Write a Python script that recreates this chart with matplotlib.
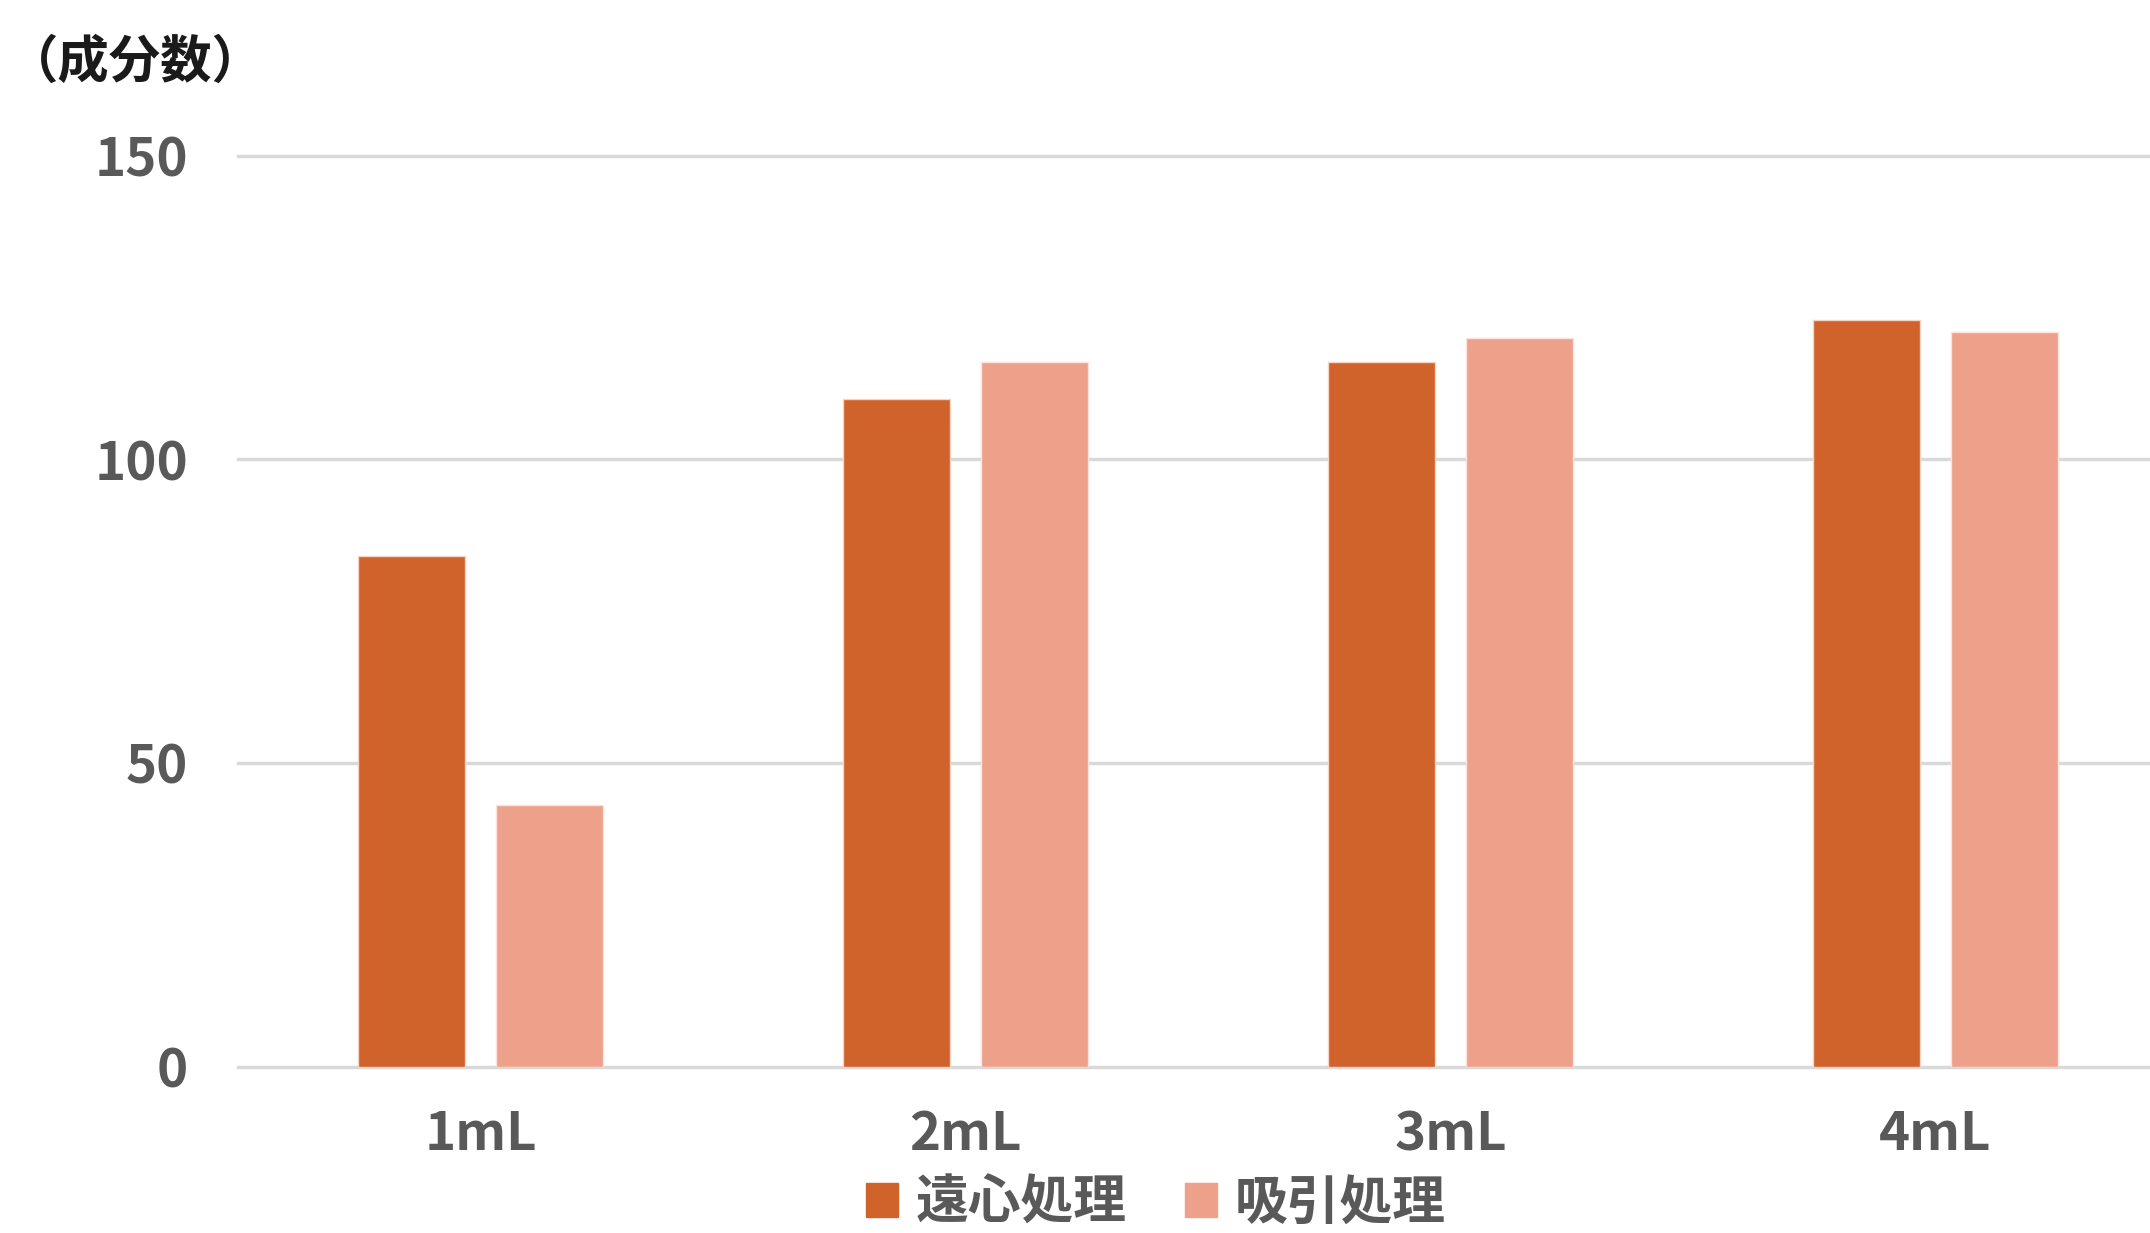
import matplotlib
matplotlib.use("Agg")
import matplotlib.pyplot as plt
import matplotlib.patches as mpatches
import numpy as np

plt.rcParams['font.family'] = ['Noto Sans CJK JP', 'DejaVu Sans']

categories = ["1mL", "2mL", "3mL", "4mL"]
series_names = ["遠心処理", "吸引処理"]
centrifuge = [84, 110, 116, 123]
suction = [43, 116, 120, 121]
yticks = [0, 50, 100, 150]
ylabel = "（成分数）"

c1 = "#D0632B"
c2 = "#EDA08A"
grid_c = "#D9D9D9"
txt_c = "#595959"

W, H = 2150, 1233
fig = plt.figure(figsize=(W / 100, H / 100), dpi=100)
ax = fig.add_axes([238 / W, (H - 1066.5) / H, 1940 / W, (1066.5 - 155.7) / H])

x = np.arange(len(categories))
bw = 0.222
off = 0.142
ax.bar(x - off, centrifuge, bw, color=c1, edgecolor="#F6D3C4", linewidth=1.0, zorder=3)
ax.bar(x + off, suction, bw, color=c2, edgecolor="#FBE3DC", linewidth=1.0, zorder=3)

ax.set_xlim(-0.5, 3.5)
ax.set_ylim(0, 150)
ax.set_yticks(yticks)
ax.set_xticks(x)
ax.set_xticklabels(categories)
for yv in yticks:
    ax.axhline(yv, color=grid_c, linewidth=2.5, zorder=1, clip_on=False)
for s in ax.spines.values():
    s.set_visible(False)
ax.tick_params(axis='both', length=0, colors=txt_c, labelsize=38)
ax.tick_params(axis='y', pad=36)
ax.tick_params(axis='x', pad=30)
for lab in ax.get_xticklabels() + ax.get_yticklabels():
    lab.set_fontweight('bold')
    lab.set_color(txt_c)

fig.text(0.003, (H - 62) / H, ylabel, fontsize=37, fontweight='bold', color='#1a1a1a', va='center', ha='left')

handles = [mpatches.Patch(color=c1, label=series_names[0]),
           mpatches.Patch(color=c2, label=series_names[1])]
leg = fig.legend(handles=handles, loc='center', bbox_to_anchor=(1156 / W, 30 / H), ncol=2,
                 frameon=False, fontsize=38, handlelength=0.6, handleheight=0.6,
                 handletextpad=0.34, columnspacing=1.1, labelcolor=txt_c,
                 borderpad=0, borderaxespad=0)
for t in leg.get_texts():
    t.set_fontweight('bold')

fig.savefig("out.png", dpi=100, facecolor='white')
